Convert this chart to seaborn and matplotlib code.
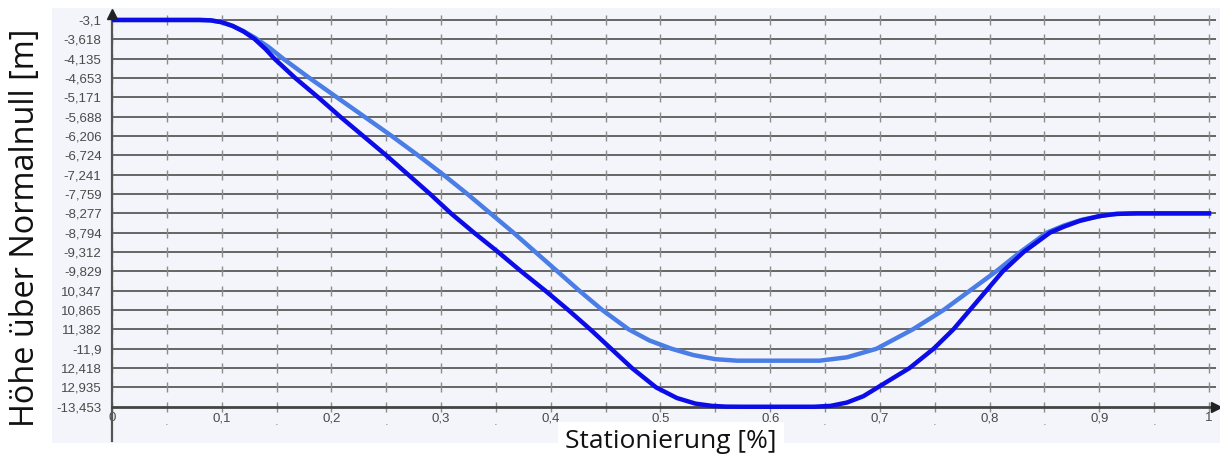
import numpy as np
import pandas as pd
import matplotlib
matplotlib.use('Agg')
import matplotlib.pyplot as plt
from matplotlib.patches import Rectangle
import seaborn as sns

# values
station_dark = [0.0, 0.08, 0.09, 0.10, 0.11, 0.12, 0.13, 0.14, 0.148, 0.167, 0.188, 0.208,
                0.229, 0.250, 0.270, 0.290, 0.309, 0.330, 0.352, 0.373, 0.395, 0.416,
                0.436, 0.455, 0.474, 0.496, 0.515, 0.532, 0.547, 0.56, 0.575, 0.640, 0.655,
                0.67, 0.685, 0.70, 0.727, 0.749, 0.767, 0.782, 0.797, 0.812, 0.831, 0.855,
                0.868, 0.882, 0.90, 0.916, 0.935, 1.0]
hoehe_dark = [-3.1, -3.1, -3.11, -3.16, -3.26, -3.41, -3.61, -3.88, -4.135, -4.653, -5.171, -5.688,
              -6.206, -6.724, -7.241, -7.759, -8.277, -8.794, -9.312, -9.829, -10.347, -10.865,
              -11.382, -11.9, -12.418, -12.935, -13.22, -13.37, -13.43, -13.45, -13.453, -13.453, -13.43,
              -13.34, -13.17, -12.9, -12.418, -11.9, -11.382, -10.865, -10.347, -9.829, -9.312, -8.794,
              -8.63, -8.48, -8.35, -8.29, -8.277, -8.277]

station_light = [0.0, 0.08, 0.09, 0.10, 0.11, 0.12, 0.13, 0.143, 0.156, 0.180, 0.205, 0.230,
                 0.255, 0.279, 0.302, 0.324, 0.345, 0.366, 0.386, 0.406, 0.426, 0.447,
                 0.471, 0.49, 0.51, 0.53, 0.55, 0.57, 0.645, 0.67, 0.697, 0.730, 0.758,
                 0.782, 0.806, 0.828, 0.852, 0.868, 0.885, 0.91, 0.93, 1.0]
hoehe_light = [-3.1, -3.1, -3.11, -3.16, -3.26, -3.40, -3.57, -3.83, -4.135, -4.653, -5.171, -5.688,
               -6.206, -6.724, -7.241, -7.759, -8.277, -8.794, -9.312, -9.829, -10.347, -10.865,
               -11.382, -11.68, -11.9, -12.07, -12.18, -12.22, -12.22, -12.13, -11.9, -11.382, -10.865,
               -10.347, -9.829, -9.312, -8.794, -8.6, -8.44, -8.3, -8.277, -8.277]

y_ticks = [-3.1, -3.618, -4.135, -4.653, -5.171, -5.688, -6.206, -6.724, -7.241, -7.759,
           -8.277, -8.794, -9.312, -9.829, -10.347, -10.865, -11.382, -11.9, -12.418,
           -12.935, -13.453]
y_labels = ['-3,1', '-3,618', '-4,135', '-4,653', '-5,171', '-5,688', '-6,206', '-6,724',
            '-7,241', '-7,759', '-8,277', '-8,794', '-9,312', '-9,829', '10,347', '10,865',
            '11,382', '-11,9', '12,418', '12,935', '-13,453']
x_ticks = [0, 0.1, 0.2, 0.3, 0.4, 0.5, 0.6, 0.7, 0.8, 0.9, 1.0]
x_labels = ['0', '0,1', '0,2', '0,3', '0,4', '0,5', '0,6', '0,7', '0,8', '0,9', '1']
x_minor = [0.05, 0.15, 0.25, 0.35, 0.45, 0.55, 0.65, 0.75, 0.85, 0.95]

panel = '#f4f5fa'
grid_col = '#666666'

fig = plt.figure(figsize=(12.2, 4.59), dpi=100)
fig.patches.append(Rectangle((52 / 1220, 1 - 443 / 459), 1 - 52 / 1220, 435 / 459,
                             transform=fig.transFigure, facecolor=panel,
                             edgecolor='none', zorder=-1))
ax = fig.add_axes([112 / 1220, 18 / 459, 1104 / 1220, 427 / 459], facecolor=panel)
ax.set_zorder(1)

# grid lines and the small cross marks on them
for y in y_ticks[:-1]:
    ax.axhline(y, color=grid_col, lw=1.4, zorder=1)
gx, gy = np.meshgrid(sorted(x_ticks + x_minor), y_ticks)
ax.scatter(gx.ravel(), gy.ravel(), marker='|', s=60, color='#8c8c8c', lw=1.0, zorder=1)

df_light = pd.DataFrame({'x': station_light, 'y': hoehe_light})
df_dark = pd.DataFrame({'x': station_dark, 'y': hoehe_dark})
sns.lineplot(data=df_light, x='x', y='y', ax=ax, color='#4a7ee6', lw=3.2,
             sort=False, zorder=3)
sns.lineplot(data=df_dark, x='x', y='y', ax=ax, color='#0c0ce8', lw=3.2,
             sort=False, zorder=4)

ax.set_xlim(0, 1.0064)
ax.set_ylim(-14.37, -2.94)
ax.set_xlabel('')
ax.set_ylabel('')

for s in ['top', 'right']:
    ax.spines[s].set_visible(False)
ax.spines['left'].set_position(('data', 0))
ax.spines['left'].set_color('#555555')
ax.spines['left'].set_linewidth(1.6)
ax.spines['bottom'].set_position(('data', y_ticks[-1]))
ax.spines['bottom'].set_color('#444444')
ax.spines['bottom'].set_linewidth(2.0)
ax.spines['left'].set_zorder(2)

ax.set_yticks(y_ticks, y_labels)
ax.set_xticks(x_ticks, x_labels)
ax.set_xticks(x_minor, ['.'] * len(x_minor), minor=True)
ax.tick_params(axis='y', length=0, pad=7.5, labelsize=9.5, labelcolor='#4a4a4a')
ax.tick_params(axis='x', which='major', length=0, pad=4, labelsize=9.5, labelcolor='#4a4a4a')
ax.tick_params(axis='x', which='minor', length=0, pad=7, labelsize=9.5, labelcolor='#888888')
for lab in ax.get_yticklabels() + ax.get_xticklabels() + ax.get_xticklabels(minor=True):
    lab.set_family('Liberation Sans')

# arrow heads at the axis ends
ax.plot(1, y_ticks[-1], '>', color='#222222', ms=7, transform=ax.get_yaxis_transform(),
        clip_on=False, zorder=5)
ax.plot(0, 1, '^', color='#222222', ms=7, transform=ax.get_xaxis_transform(),
        clip_on=False, zorder=5)

fig.text(26 / 1220, 1 - 228 / 459, 'Höhe über Normalnull [m]', rotation=90,
         ha='center', va='center', fontsize=23.4, family='Open Sans', color='#111111')
fig.text(671 / 1220, 1 - 441 / 459, 'Stationierung [%]', ha='center', va='center',
         fontsize=19, family='Open Sans', color='#111111', zorder=5,
         bbox=dict(facecolor='white', edgecolor='none', pad=5))

fig.savefig('out.png', dpi=100)
